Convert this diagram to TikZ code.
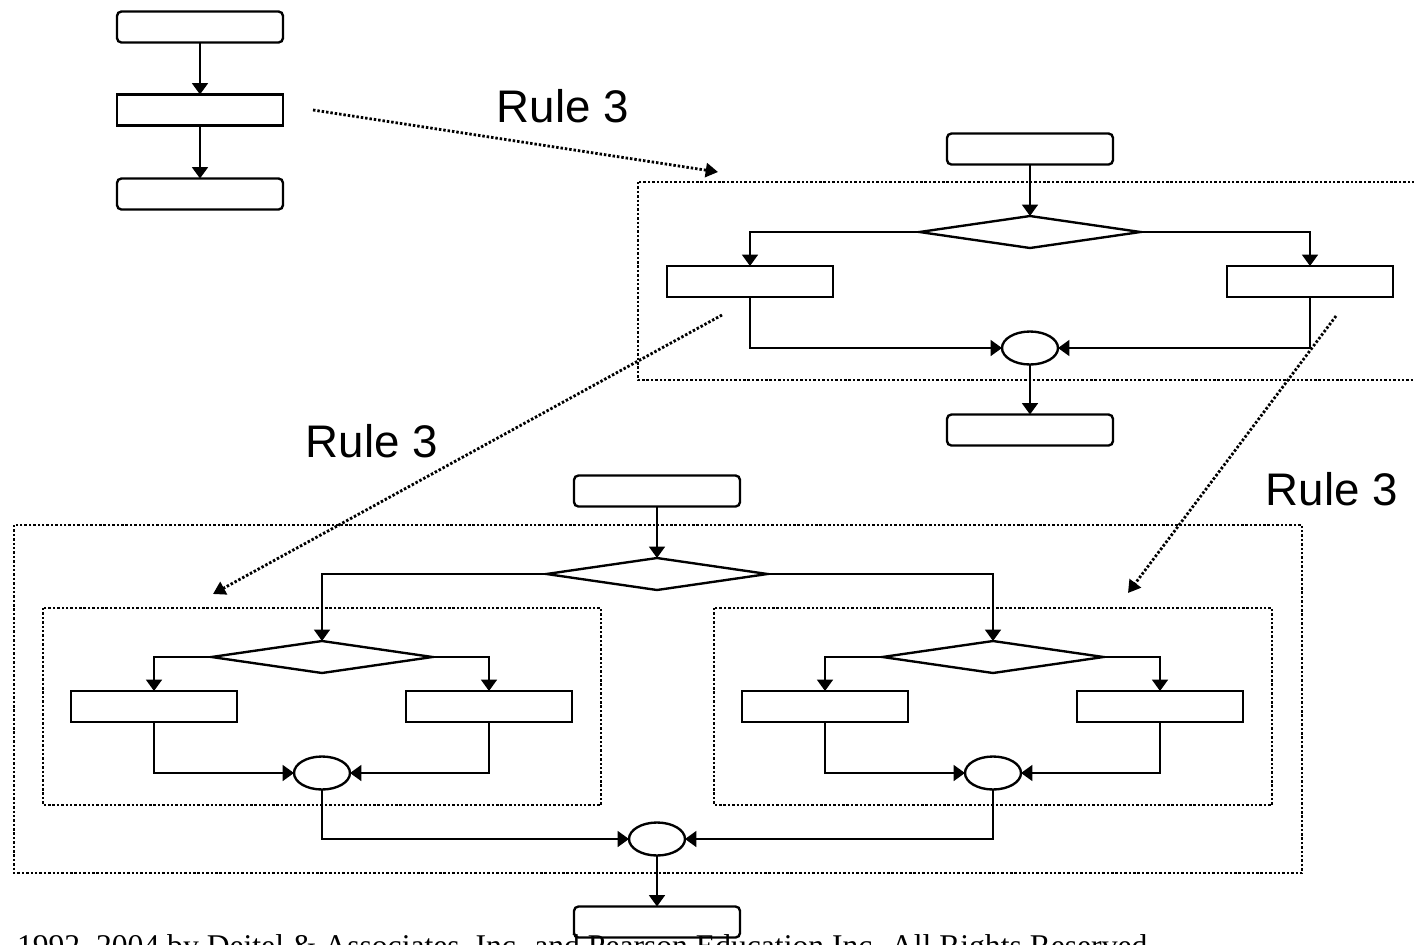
\documentclass[tikz,border=0pt]{standalone}
\usepackage{fontspec}
\setmainfont{Liberation Serif}
\setsansfont{Liberation Sans}
\usetikzlibrary{shapes.geometric,arrows.meta}

\begin{document}
\begin{tikzpicture}[x=0.02cm,y=-0.02cm,
  every node/.style={inner sep=0pt,outer sep=0pt},
  roundbox/.style={draw,line width=1.35pt,rounded corners=2.5pt,minimum width=3.32cm,minimum height=0.62cm},
  plainbox/.style={draw,line width=1.35pt,minimum width=3.32cm,minimum height=0.62cm},
  decision/.style={draw,line width=1.35pt,diamond,minimum width=4.42cm,minimum height=0.64cm},
  joint/.style={draw,line width=1.35pt,ellipse,minimum width=1.12cm,minimum height=0.66cm},
  flow/.style={line width=1.35pt,-{Triangle[length=6.5pt,width=9pt]}},
  frame/.style={line width=1.6pt,dash pattern=on 1.4pt off 1.1pt},
  ruleflow/.style={frame,-{Triangle[length=7pt,width=8pt]}},
  rulelabel/.style={font=\sffamily\fontsize{26}{30}\selectfont,anchor=base}]
\useasboundingbox (0,0) rectangle (1414,944);

% sequence
\node[roundbox] (a1) at (200,27) {};
\node[plainbox] (a2) at (200,110) {};
\node[roundbox] (a3) at (200,194) {};
\draw[flow] (a1) -- (a2);
\draw[flow] (a2) -- (a3);

% rule 3 applied once
\draw[frame] (638,182) rectangle (1430,380);
\node[roundbox] (m0) at (1030,149) {};
\node[decision] (md) at (1030,232) {};
\node[plainbox] (ml) at (750,281.5) {};
\node[plainbox] (mr) at (1310,281.5) {};
\node[joint] (me) at (1030,348) {};
\node[roundbox] (mb) at (1030,430) {};
\draw[flow] (m0) -- (md);
\draw[flow] (md.west) -| (ml.north);
\draw[flow] (md.east) -| (mr.north);
\draw[flow] (ml.south) |- (me.west);
\draw[flow] (mr.south) |- (me.east);
\draw[flow] (me) -- (mb);

% rule 3 applied to both branches
\draw[frame] (14,525) rectangle (1302,873);
\node[roundbox] (b0) at (657,491) {};
\node[decision] (bd) at (657,574) {};
\node[joint] (be) at (657,839) {};
\node[roundbox] (bb) at (657,922) {};
\foreach \g/\dx in {l/0,r/671}{
  \draw[frame] (43+\dx,608) rectangle (601+\dx,805);
  \node[decision] (\g d) at (322+\dx,657) {};
  \node[plainbox] (\g l) at (154+\dx,706.5) {};
  \node[plainbox] (\g r) at (489+\dx,706.5) {};
  \node[joint] (\g e) at (322+\dx,773) {};
  \draw[flow] (\g d.west) -| (\g l.north);
  \draw[flow] (\g d.east) -| (\g r.north);
  \draw[flow] (\g l.south) |- (\g e.west);
  \draw[flow] (\g r.south) |- (\g e.east);
}
\draw[flow] (b0) -- (bd);
\draw[flow] (bd.west) -| (ld.north);
\draw[flow] (bd.east) -| (rd.north);
\draw[flow] (le.south) |- (be.west);
\draw[flow] (re.south) |- (be.east);
\draw[flow] (be) -- (bb);

% rule arrows
\coordinate (r1s) at (313,110);
\coordinate (r1e) at (718,172);
\coordinate (r2s) at (722,315);
\coordinate (r2e) at (213,594);
\coordinate (r3s) at (1336,316);
\coordinate (r3e) at (1128,593);
\draw[ruleflow] (r1s) -- (r1e);
\draw[ruleflow] (r2s) -- (r2e);
\draw[ruleflow] (r3s) -- (r3e);
\node[rulelabel] (rule1) at (563,122) {Rule 3};
\node[rulelabel] (rule2) at (372,457) {Rule 3};
\node[rulelabel] (rule3) at (1332,505) {Rule 3};

\node[anchor=base west,font=\fontsize{18}{22}\selectfont] (footer) at (17,956)
  {1992--2004 by Deitel \& Associates, Inc. and Pearson Education Inc. All Rights Reserved.};
\end{tikzpicture}
\end{document}
